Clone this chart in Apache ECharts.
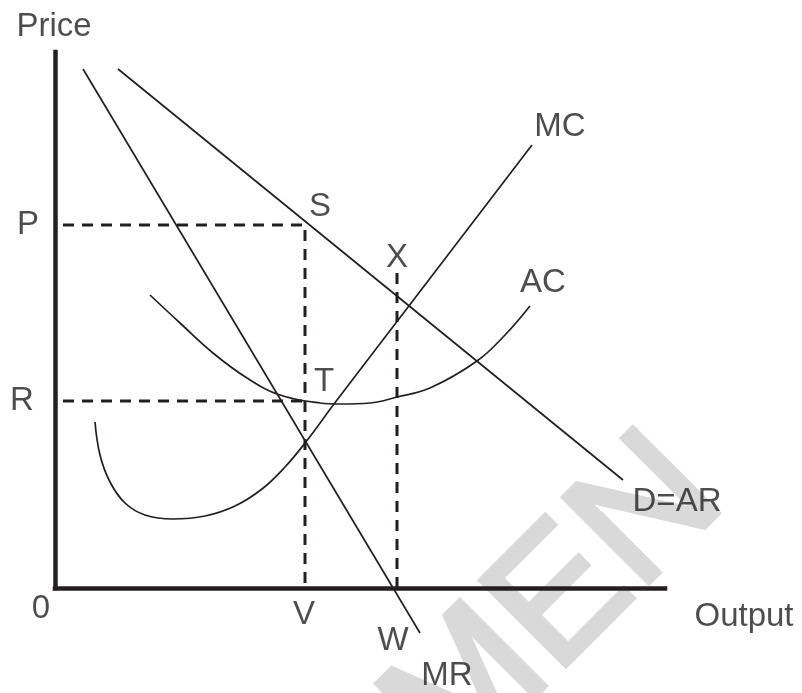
<!DOCTYPE html>
<html>
<head>
<meta charset="utf-8">
<script src="https://cdn.jsdelivr.net/npm/echarts@6/dist/echarts.min.js"></script>
<style>
    html, body { margin: 0; padding: 0; background: #fff; }
    #chart { width: 802px; height: 693px; }
</style>
</head>
<body>
<div id="chart"></div>
<script>
'use strict';

// curves, in output / price units
var demand = [[63, 519], [568, 108]];
var marginalRevenue = [[28, 519], [365, -45]];
var marginalCost = [[40, 166], [45, 133], [55, 106], [70, 85], [90, 73], [118, 69],
    [150, 72], [180, 82], [207, 99], [230, 121], [250, 145], [282, 188], [360, 290], [477, 443]];
var averageCost = [[95, 293], [125, 265], [158, 235], [192, 210], [225, 193], [265, 185],
    [285, 184], [315, 185], [342, 191], [375, 200], [422, 227], [450, 253], [475, 282]];

// levels marked by dashed guides
var priceP = 363, priceR = 187;
var outputV = 250, outputX = 342, topX = 315;
var guideStart = 8;

// text labels: [text, output, price]
var pointLabels = [
    ['Price', -1, 561], ['P', -27, 363], ['R', -33, 187], ['0', -14, -21],
    ['V', 249, -27], ['W', 338, -53], ['MR', 392, -88], ['Output', 689, -29],
    ['S', 265, 381], ['X', 342, 330], ['T', 269, 206], ['AC', 488, 305],
    ['MC', 505, 461], ['D=AR', 622, 86]
];

var ink = '#231f20';
var font = 'Liberation Sans, Arial, Helvetica, sans-serif';

var chart = echarts.init(document.getElementById('chart'));

function curve(name, data, smooth) {
    return {
        name: name,
        type: 'line',
        data: data,
        smooth: smooth,
        symbol: 'none',
        clip: false,
        silent: true,
        lineStyle: { color: ink, width: 1.7 }
    };
}

function guide(data) {
    return {
        type: 'line',
        data: data,
        symbol: 'none',
        clip: false,
        silent: true,
        lineStyle: { color: ink, width: 3, type: [11, 8] }
    };
}

var option = {
    backgroundColor: '#fff',
    animation: false,
    grid: { left: 55, right: 137, top: 52, bottom: 105 },
    xAxis: {
        type: 'value', min: 0, max: 610,
        axisLine: { lineStyle: { color: ink, width: 4.5, cap: 'square' } },
        axisTick: { show: false }, axisLabel: { show: false }, splitLine: { show: false }
    },
    yAxis: {
        type: 'value', min: 0, max: 536,
        axisLine: { show: true, lineStyle: { color: ink, width: 4.5, cap: 'square' } },
        axisTick: { show: false }, axisLabel: { show: false }, splitLine: { show: false }
    },
    // faint watermark behind the diagram
    graphic: [{
        type: 'text',
        x: 556, y: 607,
        z: -10,
        rotation: Math.PI / 4,
        style: {
            text: 'MEN',
            x: 0, y: 0,
            align: 'center', verticalAlign: 'middle',
            font: '176px ' + font,
            fill: '#d9d9d9',
            stroke: '#d9d9d9',
            lineWidth: 5
        }
    }],
    series: [
        guide([[guideStart, priceP], [outputV, priceP], [outputV, 0]]),
        guide([[guideStart, priceR], [outputV, priceR]]),
        guide([[outputX, topX], [outputX, 0]]),
        curve('D=AR', demand, false),
        curve('MR', marginalRevenue, false),
        curve('MC', marginalCost, 0.4),
        curve('AC', averageCost, 0.4),
        {
            type: 'scatter',
            symbolSize: 0,
            clip: false,
            silent: true,
            data: pointLabels.map(function (d) { return { value: [d[1], d[2]], name: d[0] }; }),
            label: {
                show: true,
                position: [0, 0],
                align: 'center',
                verticalAlign: 'middle',
                formatter: '{b}',
                color: ink,
                fontSize: 33,
                fontFamily: font
            }
        }
    ]
};

chart.setOption(option);
</script>
</body>
</html>
